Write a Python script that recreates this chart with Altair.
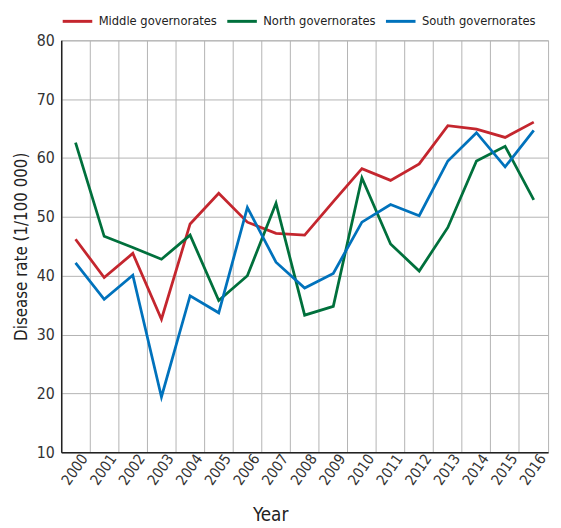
import altair as alt
import pandas as pd

years = list(range(2000, 2017))
middle = [46.2, 39.7, 43.8, 32.6, 48.8, 54.0, 49.1, 47.2, 46.9, 52.6, 58.2, 56.2, 59.0, 65.5, 64.9, 63.5, 66.1]
north = [62.6, 46.7, 44.8, 42.8, 46.9, 35.8, 40.0, 52.3, 33.3, 34.8, 56.6, 45.4, 40.8, 48.2, 59.5, 62.0, 52.9]
south = [42.2, 36.0, 40.1, 19.4, 36.6, 33.7, 51.6, 42.3, 37.9, 40.4, 49.1, 52.1, 50.2, 59.5, 64.3, 58.5, 64.7]

series_names = ["Middle governorates", "North governorates", "South governorates"]
series_colors = ["#c4262e", "#00703c", "#0072bc"]
y_ticks = [10, 20, 30, 40, 50, 60, 70, 80]

rows = []
for name, vals in zip(series_names, [middle, north, south]):
    for yr, v in zip(years, vals):
        rows.append({"Year": str(yr), "Rate": v, "Series": name})
df = pd.DataFrame(rows)

FONT = "DejaVu Sans Condensed"

chart = alt.Chart(df).mark_line(strokeWidth=2.8).encode(
    x=alt.X(
        "Year:O",
        bandPosition=0.5,
        scale=alt.Scale(type="band", paddingInner=0, paddingOuter=0),
        axis=alt.Axis(
            title="Year",
            bandPosition=0,
            labelOffset=9,
            labelAngle=-55,
            labelAlign="right",
            labelBaseline="middle",
            labelFontSize=15,
            labelColor="#333",
            labelPadding=3,
            ticks=False,
            grid=True,
            gridColor="#b3b3b3",
            gridWidth=1,
            domainColor="#222",
            domainWidth=1.5,
            titleFontSize=19,
            titleFontWeight="normal",
            titleColor="#222",
            titlePadding=19,
            titleX=212,
        ),
    ),
    y=alt.Y(
        "Rate:Q",
        scale=alt.Scale(domain=[10, 80], nice=False, zero=False),
        axis=alt.Axis(
            title="Disease rate (1/100 000)",
            values=y_ticks,
            labelFontSize=16,
            labelColor="#333",
            labelPadding=7,
            ticks=False,
            grid=True,
            gridColor="#b3b3b3",
            gridWidth=1,
            domainColor="#222",
            domainWidth=1.5,
            titleFontSize=17,
            titleFontWeight="normal",
            titleColor="#222",
            titlePadding=6,
        ),
    ),
    color=alt.Color(
        "Series:N",
        scale=alt.Scale(domain=series_names, range=series_colors),
        legend=alt.Legend(
            title=None,
            orient="none",
            direction="horizontal",
            legendX=0,
            legendY=-36,
            symbolType="stroke",
            symbolSize=900,
            symbolStrokeWidth=3,
            labelFontSize=13,
            labelColor="#222",
            labelOffset=5,
            columnPadding=3,
        ),
    ),
).properties(
    width=494,
    height=418,
    autosize=alt.AutoSizeParams(type="none"),
    padding={"left": 54, "top": 29, "right": 5, "bottom": 70},
).configure(font=FONT).configure_view(stroke="#b3b3b3", strokeWidth=1)

chart.save("out.html", embed_options={"renderer": "svg", "actions": False})
